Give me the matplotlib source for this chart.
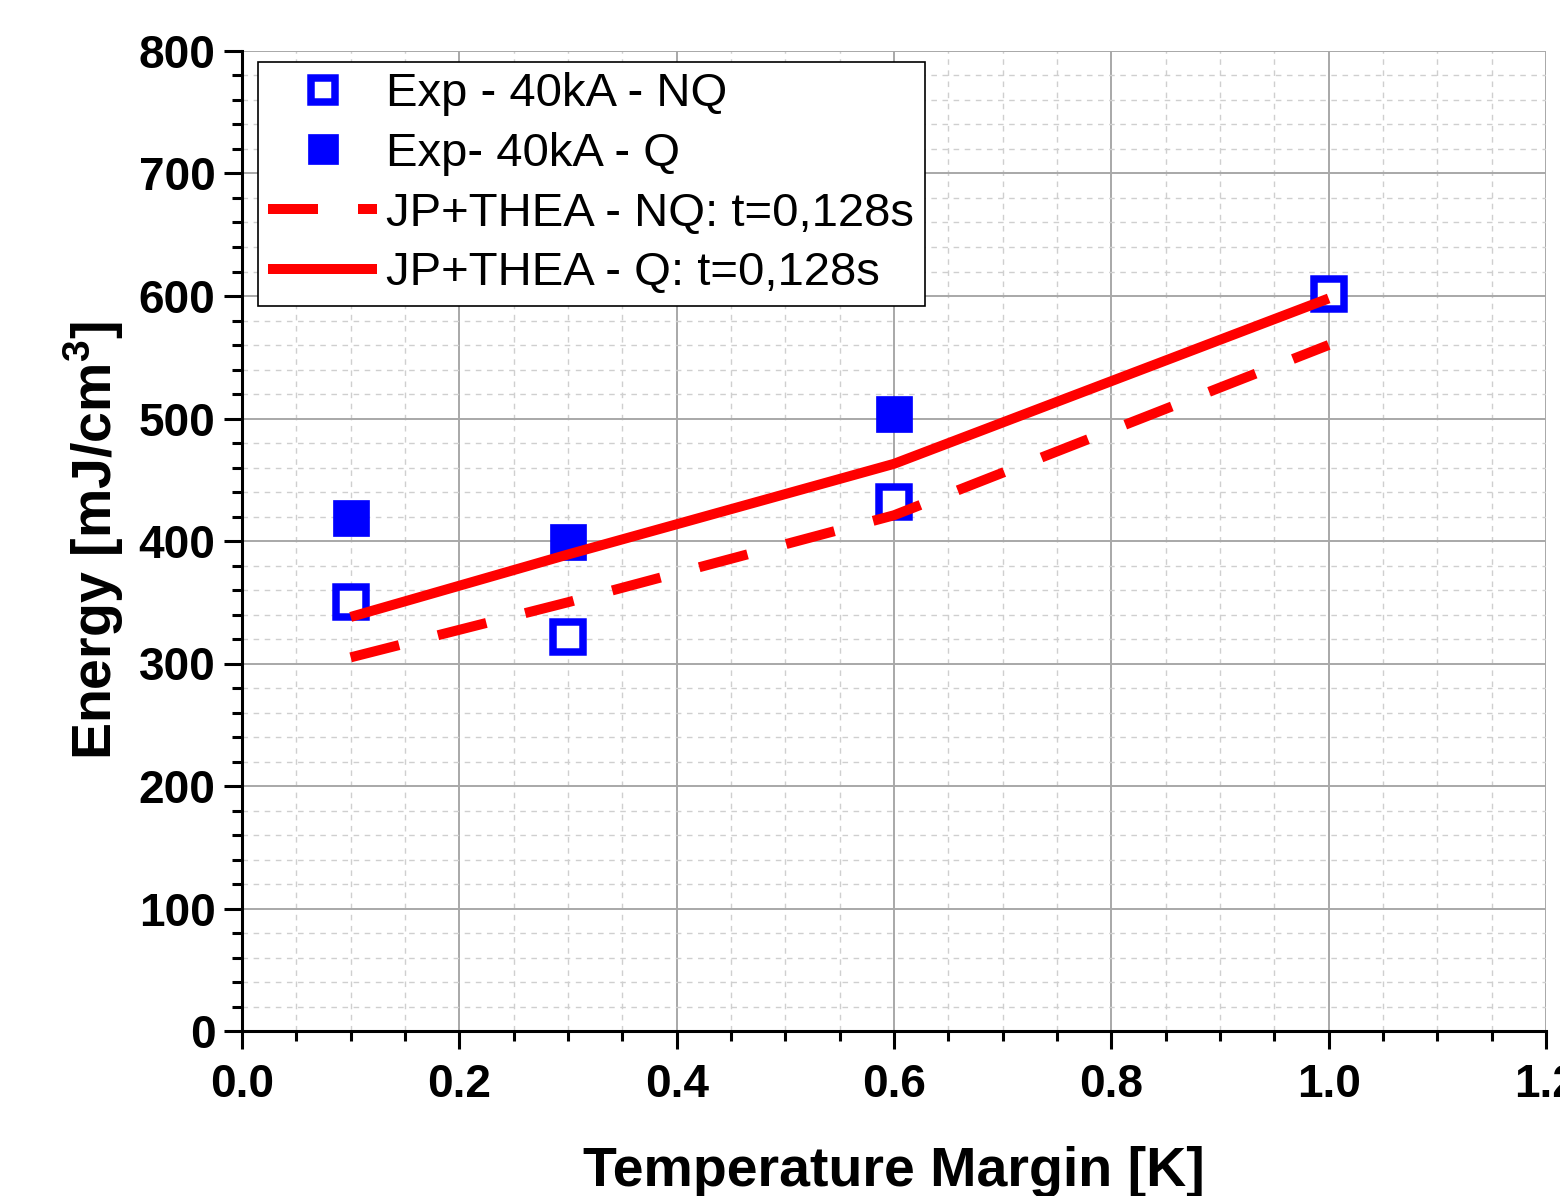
import matplotlib
matplotlib.use("Agg")
import matplotlib.pyplot as plt
from matplotlib.ticker import MultipleLocator

# Measured quench energies (open = NQ, filled = Q)
margin_nq = [0.1, 0.3, 0.6, 1.0]
energy_nq = [350, 322, 432, 602]
margin_q = [0.1, 0.3, 0.6]
energy_q = [419, 399, 504]

# JP+THEA simulation curves
margin_sim = [0.1, 0.3, 0.6, 1.0]
sim_nq = [305, 350, 421, 560]
sim_q = [338, 389, 463, 598]

labels = ["Exp - 40kA - NQ", "Exp- 40kA - Q",
          "JP+THEA - NQ: t=0,128s", "JP+THEA - Q: t=0,128s"]

plt.rcParams["font.family"] = ["Liberation Sans", "DejaVu Sans"]
plt.rcParams["mathtext.fontset"] = "custom"
plt.rcParams["mathtext.rm"] = "Liberation Sans"
plt.rcParams["mathtext.bf"] = "Liberation Sans:bold"

fig = plt.figure(figsize=(15.6, 11.96), dpi=100)
ax = fig.add_axes([242 / 1560, 1 - 1031 / 1196, 1304 / 1560, 980 / 1196])

blue = "#0000ff"
red = "#ff0000"

ax.plot(margin_nq, energy_nq, ls="none", marker="s", ms=21, mfc="white",
        mec=blue, mew=5.4, label=labels[0], zorder=3)
ax.plot(margin_q, energy_q, ls="none", marker="s", ms=26, mfc=blue,
        mec=blue, mew=0.5, label=labels[1], zorder=3)
ax.plot(margin_sim, sim_nq, color=red, lw=7.2, dashes=(5, 4),
        solid_capstyle="butt", dash_capstyle="butt", label=labels[2], zorder=4)
ax.plot(margin_sim, sim_q, color=red, lw=7.2, solid_capstyle="butt",
        label=labels[3], zorder=4)

ax.set_xlim(0, 1.2)
ax.set_ylim(0, 800)
ax.xaxis.set_major_locator(MultipleLocator(0.2))
ax.xaxis.set_minor_locator(MultipleLocator(0.05))
ax.yaxis.set_major_locator(MultipleLocator(100))
ax.yaxis.set_minor_locator(MultipleLocator(20))
ax.xaxis.set_major_formatter(plt.FuncFormatter(lambda v, p: f"{v:.1f}"))

ax.grid(which="major", color="#a8a8a8", lw=1.4, ls="-", zorder=0)
ax.grid(which="minor", color="#cfcfcf", lw=1.0, ls=(0, (4, 4)), zorder=0)
ax.set_axisbelow(True)

for side in ("top", "right"):
    ax.spines[side].set_visible(False)
for side in ("left", "bottom"):
    ax.spines[side].set_linewidth(2.2)
    ax.spines[side].set_color("black")

ax.tick_params(which="major", direction="out", length=13, width=2.2,
               labelsize=33)
ax.tick_params(which="minor", direction="out", length=7, width=2.2)
ax.tick_params(axis="y", which="major", pad=6)
ax.tick_params(axis="x", which="major", pad=10)
for lab in ax.get_xticklabels() + ax.get_yticklabels():
    lab.set_fontweight("bold")

ax.set_xlabel("Temperature Margin [K]", fontsize=40, fontweight="bold",
              labelpad=28)
ax.set_ylabel(r"Energy [mJ/cm$^\mathbf{3}$]", fontsize=40, fontweight="bold",
              labelpad=9)

leg = ax.legend(loc="upper left", bbox_to_anchor=(16 / 1304, (1031 - 62) / 980),
                borderaxespad=0, borderpad=0.22, labelspacing=0.33,
                handlelength=2.3, handletextpad=0.2, fontsize=34,
                markerscale=0.85, frameon=True, fancybox=False)
leg.get_frame().set_edgecolor("black")
leg.get_frame().set_linewidth(1.2)
leg.get_frame().set_alpha(1)

fig.savefig("out.png", dpi=100)
